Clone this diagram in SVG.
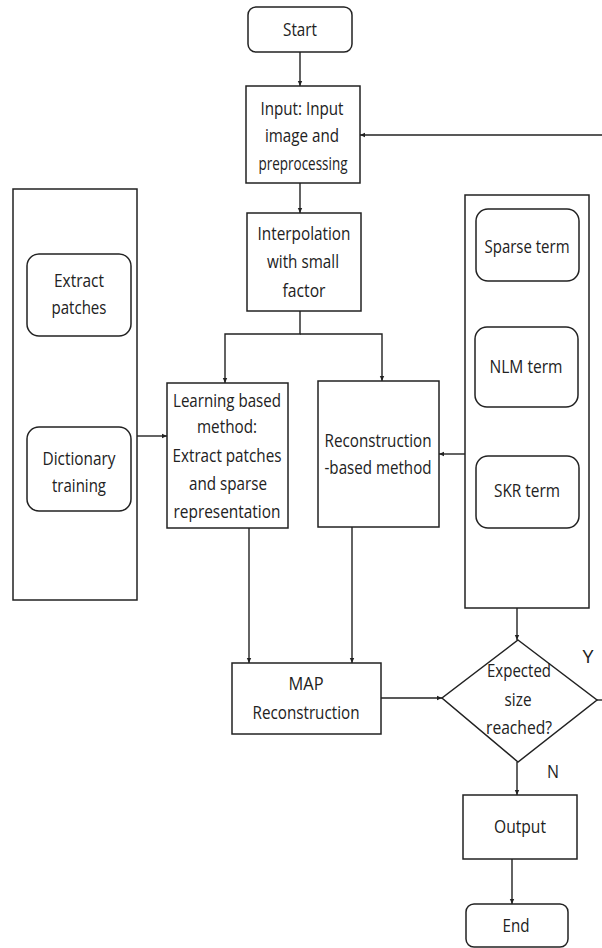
<svg xmlns="http://www.w3.org/2000/svg" width="602" height="948" viewBox="0 0 602 948">
<defs>
<marker id="ah" markerWidth="6" markerHeight="6" refX="5" refY="3" orient="auto" markerUnits="userSpaceOnUse">
<path d="M0,0.8 L5,3 L0,5.2 z" fill="#222"/>
</marker>
<style>
.b{fill:#fff;stroke:#222;stroke-width:1.5}
.c{fill:none;stroke:#222;stroke-width:1.4}
text{font-family:"Open Sans","Noto Sans","DejaVu Sans",sans-serif;font-size:18px;fill:#222;text-anchor:middle}
</style>
</defs>
<rect width="602" height="948" fill="#fff"/>
<g id="connectors">
<path class="c" d="M300,52 V86" marker-end="url(#ah)"/>
<path class="c" d="M602,135 H360" marker-end="url(#ah)"/>
<path class="c" d="M300,183 V213" marker-end="url(#ah)"/>
<path class="c" d="M300,311 V334 H225 V383" marker-end="url(#ah)"/>
<path class="c" d="M300,334 H382 V381" marker-end="url(#ah)"/>
<path class="c" d="M137,436 H167" marker-end="url(#ah)"/>
<path class="c" d="M465,454 H439" marker-end="url(#ah)"/>
<path class="c" d="M249,528 V663" marker-end="url(#ah)"/>
<path class="c" d="M352,527 V663" marker-end="url(#ah)"/>
<path class="c" d="M381,698 H442" marker-end="url(#ah)"/>
<path class="c" d="M517,608 V640" marker-end="url(#ah)"/>
<path class="c" d="M597,700 H602"/>
<path class="c" d="M517,762 V795" marker-end="url(#ah)"/>
<path class="c" d="M512,859 V904" marker-end="url(#ah)"/>
</g>
<g id="start"><rect class="b" x="248" y="7" width="104" height="45" rx="8"/><text x="300" y="36" textLength="34" lengthAdjust="spacingAndGlyphs">Start</text></g>
<g id="input"><rect class="b" x="246" y="86" width="114" height="97"/>
<text x="302" y="115" textLength="83" lengthAdjust="spacingAndGlyphs">Input: Input</text>
<text x="302" y="142" textLength="74" lengthAdjust="spacingAndGlyphs">image and</text>
<text x="303" y="170" textLength="89" lengthAdjust="spacingAndGlyphs">preprocessing</text></g>
<g id="interpolation"><rect class="b" x="247" y="213" width="114" height="98"/>
<text x="304" y="240" textLength="93" lengthAdjust="spacingAndGlyphs">Interpolation</text>
<text x="303" y="268" textLength="72" lengthAdjust="spacingAndGlyphs">with small</text>
<text x="304" y="297" textLength="43" lengthAdjust="spacingAndGlyphs">factor</text></g>
<g id="left-panel"><rect class="b" x="13" y="189" width="124" height="411"/></g>
<g id="extract"><rect class="b" x="27" y="254" width="104" height="82" rx="12"/>
<text x="79" y="287" textLength="50" lengthAdjust="spacingAndGlyphs">Extract</text>
<text x="79" y="314" textLength="55" lengthAdjust="spacingAndGlyphs">patches</text></g>
<g id="dictionary"><rect class="b" x="27" y="427" width="104" height="84" rx="12"/>
<text x="79" y="465" textLength="73" lengthAdjust="spacingAndGlyphs">Dictionary</text>
<text x="79" y="492" textLength="54" lengthAdjust="spacingAndGlyphs">training</text></g>
<g id="learning"><rect class="b" x="167" y="383" width="121" height="145"/>
<text x="227" y="407" textLength="108" lengthAdjust="spacingAndGlyphs">Learning based</text>
<text x="227" y="433" textLength="60" lengthAdjust="spacingAndGlyphs">method:</text>
<text x="227" y="462" textLength="109" lengthAdjust="spacingAndGlyphs">Extract patches</text>
<text x="228" y="490" textLength="78" lengthAdjust="spacingAndGlyphs">and sparse</text>
<text x="227" y="518" textLength="107" lengthAdjust="spacingAndGlyphs">representation</text></g>
<g id="reconstruction"><rect class="b" x="318" y="381" width="121" height="146"/>
<text x="378" y="447" textLength="107" lengthAdjust="spacingAndGlyphs">Reconstruction</text>
<text x="378" y="474" textLength="107" lengthAdjust="spacingAndGlyphs">-based method</text></g>
<g id="right-panel"><rect class="b" x="465" y="195" width="124" height="413"/></g>
<g id="sparse"><rect class="b" x="476" y="209" width="103" height="72" rx="12"/>
<text x="527" y="253" textLength="85" lengthAdjust="spacingAndGlyphs">Sparse term</text></g>
<g id="nlm"><rect class="b" x="475" y="327" width="103" height="80" rx="12"/>
<text x="526" y="373" textLength="73" lengthAdjust="spacingAndGlyphs">NLM term</text></g>
<g id="skr"><rect class="b" x="476" y="456" width="103" height="72" rx="12"/>
<text x="527" y="497" textLength="66" lengthAdjust="spacingAndGlyphs">SKR term</text></g>
<g id="map"><rect class="b" x="232" y="663" width="149" height="71"/>
<text x="306" y="690" textLength="35" lengthAdjust="spacingAndGlyphs">MAP</text>
<text x="306" y="719" textLength="107" lengthAdjust="spacingAndGlyphs">Reconstruction</text></g>
<g id="decision"><polygon class="b" points="518,640 597,700 518,762 442,698"/>
<text x="519" y="677" textLength="64" lengthAdjust="spacingAndGlyphs">Expected</text>
<text x="518" y="706" textLength="27" lengthAdjust="spacingAndGlyphs">size</text>
<text x="519" y="734" textLength="66" lengthAdjust="spacingAndGlyphs">reached?</text></g>
<text x="588" y="663" textLength="11" lengthAdjust="spacingAndGlyphs">Y</text>
<text x="553" y="778" textLength="12" lengthAdjust="spacingAndGlyphs">N</text>
<g id="output"><rect class="b" x="463" y="795" width="114" height="64"/>
<text x="520" y="833" textLength="52" lengthAdjust="spacingAndGlyphs">Output</text></g>
<g id="end"><rect class="b" x="466" y="904" width="102" height="43" rx="8"/>
<text x="516" y="932" textLength="27" lengthAdjust="spacingAndGlyphs">End</text></g>
</svg>
